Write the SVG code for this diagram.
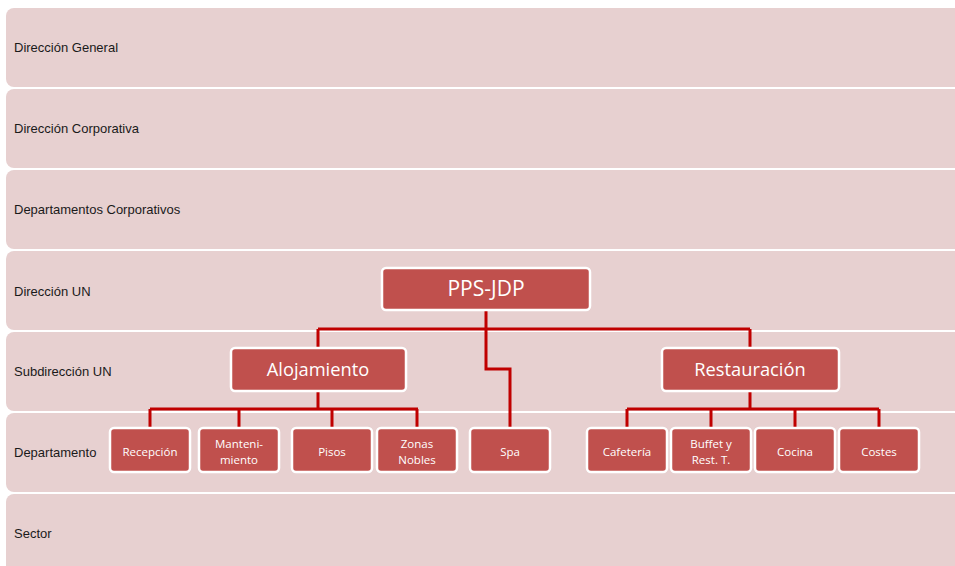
<svg xmlns="http://www.w3.org/2000/svg" width="955" height="566" viewBox="0 0 955 566">
<style>
.band{fill:#E7D0D0;}
.bl{font-family:"Liberation Sans",Arial,sans-serif;font-size:13px;fill:#1a1a1a;}
.node{fill:#C0504D;stroke:#FFFFFF;stroke-width:2.5;}
.nt{font-family:"Open Sans","Liberation Sans",sans-serif;fill:#FFFFFF;text-anchor:middle;}
.big{font-size:21px;}
.mid{font-size:18.3px;}
.sm{font-size:11.5px;}
.con{fill:none;stroke:#C00000;stroke-width:3;}
</style>
<rect width="955" height="566" fill="#FFFFFF"/>
<g id="bands">
<rect class="band" x="6" y="8" width="980" height="79" rx="8"/>
<rect class="band" x="6" y="89" width="980" height="79" rx="8"/>
<rect class="band" x="6" y="170" width="980" height="79" rx="8"/>
<rect class="band" x="6" y="251" width="980" height="79" rx="8"/>
<rect class="band" x="6" y="332" width="980" height="79" rx="8"/>
<rect class="band" x="6" y="413" width="980" height="79" rx="8"/>
<rect class="band" x="6" y="494" width="980" height="90" rx="8"/>
<text class="bl" x="14" y="52">Dirección General</text>
<text class="bl" x="14" y="133">Dirección Corporativa</text>
<text class="bl" x="14" y="214">Departamentos Corporativos</text>
<text class="bl" x="14" y="296">Dirección UN</text>
<text class="bl" x="14" y="376">Subdirección UN</text>
<text class="bl" x="14" y="457">Departamento</text>
<text class="bl" x="14" y="538">Sector</text>
</g>
<g id="connectors">
<path class="con" d="M486 310 V329 M318 329 H750 M318 329 V348 M750 329 V348"/>
<path class="con" d="M486 329 V369 H510 V428"/>
<path class="con" d="M318 391 V409 M150 409 H418 M150 409 V428 M239 409 V428 M332 409 V428 M417 409 V428"/>
<path class="con" d="M750 391 V409 M627 409 H879 M627 409 V428 M711 409 V428 M795 409 V428 M879 409 V428"/>
</g>
<g id="n-pps"><rect class="node" x="382" y="268" width="208" height="42" rx="4"/><text class="nt big" x="486" y="296">PPS-JDP</text></g>
<g id="n-aloj"><rect class="node" x="231" y="348" width="175" height="43" rx="4"/><text class="nt mid" x="318" y="376">Alojamiento</text></g>
<g id="n-rest"><rect class="node" x="662" y="348" width="177" height="43" rx="4"/><text class="nt mid" x="750" y="376">Restauración</text></g>
<g id="n-recep"><rect class="node" x="110" y="428" width="80" height="44" rx="4"/><text class="nt sm" x="150" y="456">Recepción</text></g>
<g id="n-mant"><rect class="node" x="199" y="428" width="80" height="44" rx="4"/><text class="nt sm" x="239" y="448">Manteni-</text><text class="nt sm" x="239" y="464">miento</text></g>
<g id="n-pisos"><rect class="node" x="292" y="428" width="80" height="44" rx="4"/><text class="nt sm" x="332" y="456">Pisos</text></g>
<g id="n-zonas"><rect class="node" x="377" y="428" width="80" height="44" rx="4"/><text class="nt sm" x="417" y="448">Zonas</text><text class="nt sm" x="417" y="464">Nobles</text></g>
<g id="n-spa"><rect class="node" x="470" y="428" width="80" height="44" rx="4"/><text class="nt sm" x="510" y="456">Spa</text></g>
<g id="n-cafe"><rect class="node" x="587" y="428" width="80" height="44" rx="4"/><text class="nt sm" x="627" y="456">Cafetería</text></g>
<g id="n-buffet"><rect class="node" x="671" y="428" width="80" height="44" rx="4"/><text class="nt sm" x="711" y="448">Buffet y</text><text class="nt sm" x="711" y="464">Rest. T.</text></g>
<g id="n-cocina"><rect class="node" x="755" y="428" width="80" height="44" rx="4"/><text class="nt sm" x="795" y="456">Cocina</text></g>
<g id="n-costes"><rect class="node" x="839" y="428" width="80" height="44" rx="4"/><text class="nt sm" x="879" y="456">Costes</text></g>
</svg>
